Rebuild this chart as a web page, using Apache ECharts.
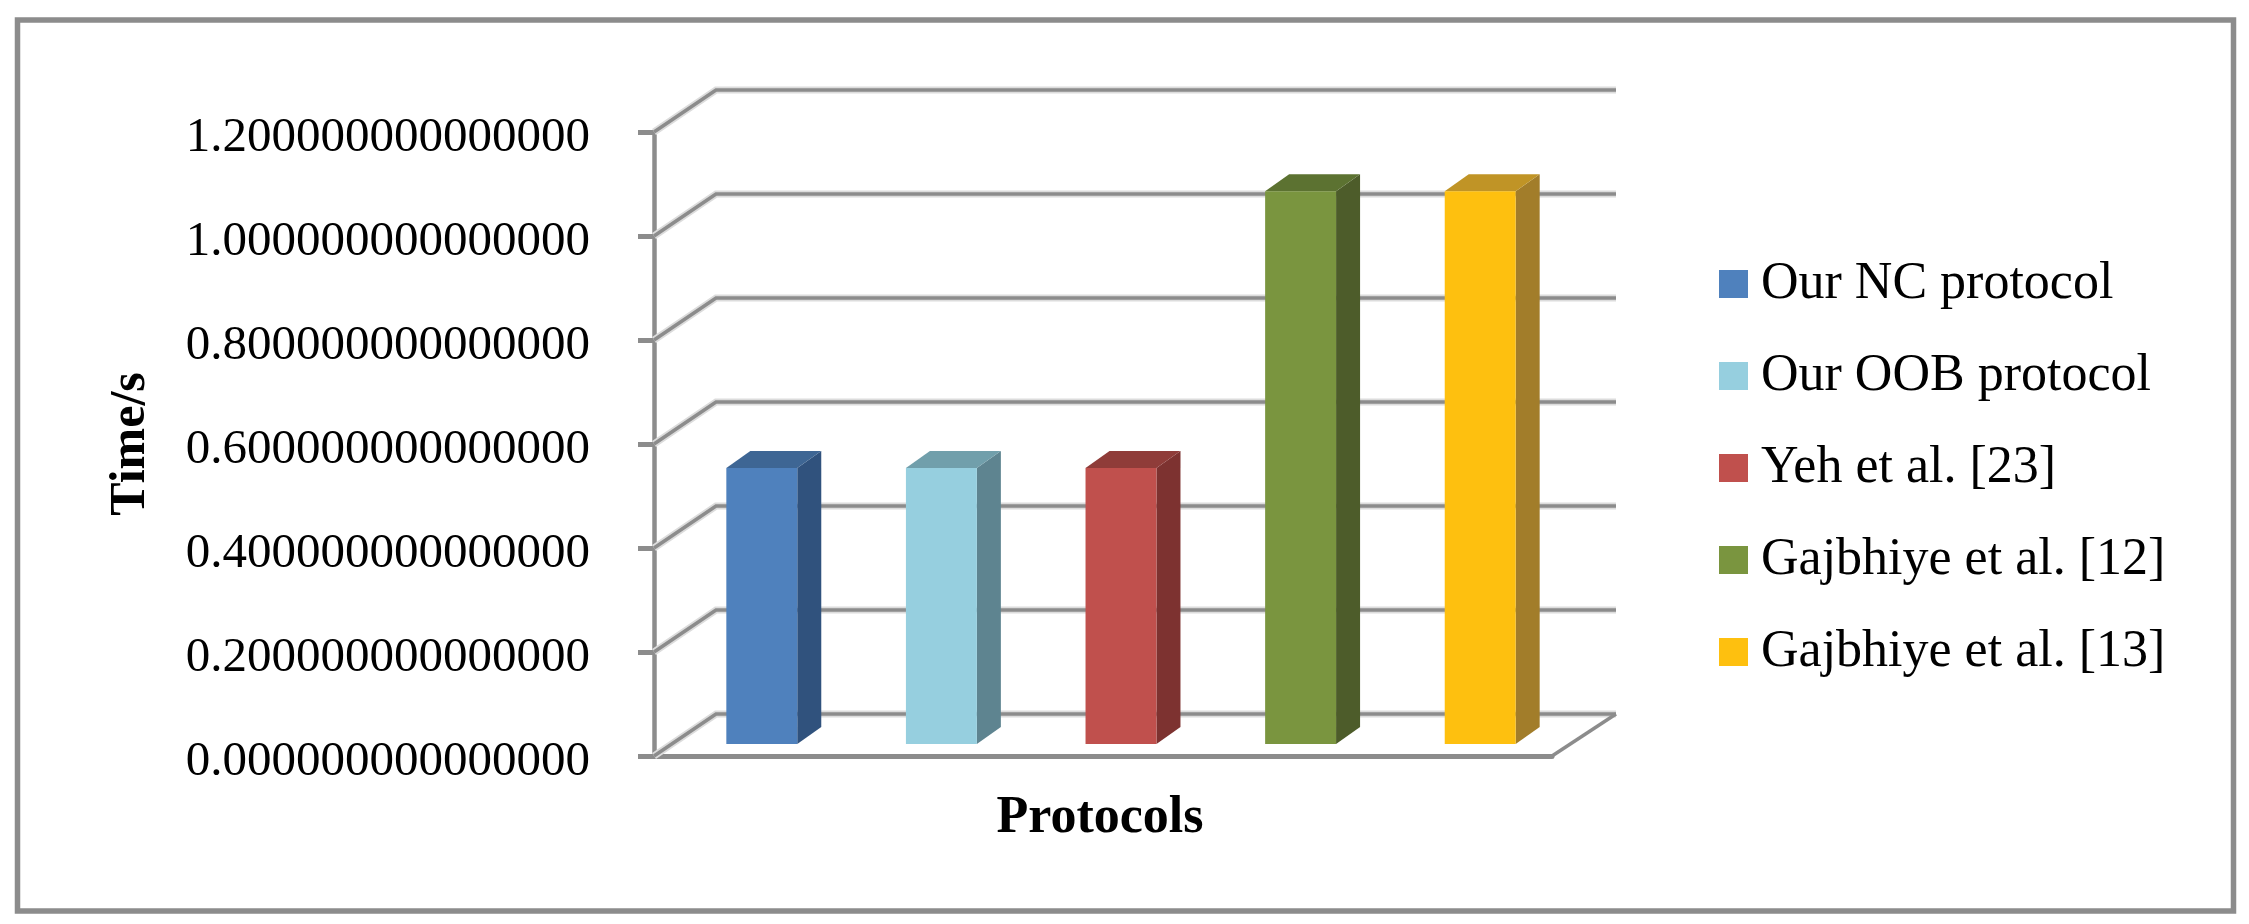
<!DOCTYPE html>
<html>
<head>
<meta charset="utf-8">
<title>Protocols</title>
<style>
html, body { margin: 0; padding: 0; background: #fff; }
#chart { width: 2249px; height: 924px; }
</style>
<script src="https://cdn.jsdelivr.net/npm/echarts@6/dist/echarts.min.js"></script>
</head>
<body>
<div id="chart"></div>
<script>
var categories = ["Our NC protocol", "Our OOB protocol", "Yeh et al. [23]", "Gajbhiye et al. [12]", "Gajbhiye et al. [13]"];
var times = [0.531, 0.531, 0.531, 1.063, 1.063];
var yTicks = [0, 0.2, 0.4, 0.6, 0.8, 1.0, 1.2];

var frontColors = ["#4f81bd", "#96cfdf", "#c0504d", "#7a953f", "#fec00f"];
var sideColors = ["#30527d", "#5e8490", "#7d3230", "#4d5c2a", "#a27d2a"];
var topColors = ["#3e6694", "#719fab", "#8f3c39", "#5c7231", "#c09426"];

var serif = "Liberation Serif";
var axisGrey = "#8c8c8c";
var wallDx = 62, wallDy = -42;    // depth of the chart box
var barDx = 24, barDy = -17;      // depth of one bar
var barOffX = 18, barOffY = -12;  // bars stand this far back on the floor

function poly(points, fill) {
	return {type: "polygon", shape: {points: points}, style: {fill: fill}};
}

function renderBar(idx) {
	return function(params, api){
		var base = api.coord([idx, 0]);
		var head = api.coord([idx, api.value(1)]);
		var w = api.size([1, 0])[0] * 0.395;
		var x0 = base[0] - w / 2 + barOffX;
		var x1 = x0 + w;
		var y0 = base[1] + barOffY;
		var y1 = head[1] + barOffY;
		return {type: "group", children: [
			poly([[x1, y0], [x1 + barDx, y0 + barDy], [x1 + barDx, y1 + barDy], [x1, y1]], sideColors[idx]),
			poly([[x0, y1], [x1, y1], [x1 + barDx, y1 + barDy], [x0 + barDx, y1 + barDy]], topColors[idx]),
			poly([[x0, y0], [x1, y0], [x1, y1], [x0, y1]], frontColors[idx])
		]};
	};
}

function renderWall(params, api){
	var cs = params.coordSys;
	var y = api.coord([0, api.value(0)])[1];
	var pts = [[cs.x, y], [cs.x + wallDx, y + wallDy], [cs.x + cs.width + wallDx + 2, y + wallDy]];
	var kids = [
		{type: "polyline", shape: {points: pts}, style: {fill: null, stroke: "#dcdcdc", lineWidth: 7}},
		{type: "polyline", shape: {points: pts}, style: {fill: null, stroke: axisGrey, lineWidth: 3.5}}
	];
	if (api.value(0) === 0) {
		// right edge of the floor
		kids.push({type: "polyline", shape: {points: [[cs.x + cs.width, y], [cs.x + cs.width + wallDx + 2, y + wallDy]]},
			style: {fill: null, stroke: axisGrey, lineWidth: 3.5}});
	}
	return {type: "group", children: kids};
}

var series = [{
	type: "custom",
	name: "wall",
	z: 1,
	silent: true,
	clip: false,
	renderItem: renderWall,
	encode: {y: 0},
	data: yTicks.map(function(v){ return [v]; })
}];
categories.forEach(function(name, idx){
	series.push({
		type: "custom",
		name: name,
		z: 3,
		clip: false,
		renderItem: renderBar(idx),
		encode: {x: 0, y: 1},
		itemStyle: {color: frontColors[idx]},
		data: [[idx, times[idx]]]
	});
});

var chart = echarts.init(document.getElementById("chart"));
chart.setOption({
	animation: false,
	backgroundColor: "#fff",
	graphic: [{
		type: "rect",
		shape: {x: 17.5, y: 20, width: 2216, height: 891},
		style: {fill: null, stroke: axisGrey, lineWidth: 5.5},
		silent: true
	}],
	legend: {
		orient: "vertical",
		left: 1719,
		top: 258,
		padding: 0,
		icon: "rect",
		itemWidth: 29,
		itemHeight: 28,
		itemGap: 40,
		data: categories,
		selectedMode: false,
		textStyle: {fontFamily: serif, fontSize: 52, color: "#000", padding: [0, 0, 0, 8]}
	},
	grid: {left: 654, top: 132, width: 898, height: 624},
	xAxis: {
		type: "category",
		data: categories,
		name: "Protocols",
		nameLocation: "middle",
		nameGap: 37,
		nameTextStyle: {fontFamily: serif, fontWeight: "bold", fontSize: 52, color: "#000", padding: [0, 6, 0, 0]},
		axisLabel: {show: false},
		axisTick: {show: false},
		axisLine: {lineStyle: {color: axisGrey, width: 5}}
	},
	yAxis: {
		type: "value",
		min: 0,
		max: 1.2,
		interval: 0.2,
		name: "Time/s",
		nameLocation: "middle",
		nameGap: 498,
		nameRotate: 90,
		nameTextStyle: {fontFamily: serif, fontWeight: "bold", fontSize: 50, color: "#000"},
		axisLine: {show: true, onZero: false, lineStyle: {color: axisGrey, width: 4.5}},
		axisTick: {show: true, length: 16, lineStyle: {color: axisGrey, width: 5}},
		axisLabel: {
			margin: 64,
			fontFamily: serif,
			fontSize: 49,
			color: "#000",
			verticalAlign: "top",
			lineHeight: 12,
			formatter: function(v){ return v.toFixed(15); }
		},
		splitLine: {show: false}
	},
	series: series
});
</script>
</body>
</html>
